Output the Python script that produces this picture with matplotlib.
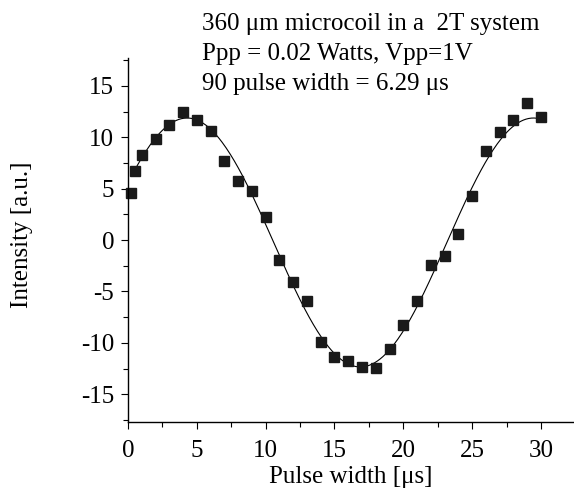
import numpy as np
import matplotlib
matplotlib.use("Agg")
import matplotlib.pyplot as plt
from matplotlib.ticker import MultipleLocator

# data
pulse_width = [0.25, 0.5, 1, 2, 3, 4, 5, 6, 7, 8, 9, 10, 11, 12, 13, 14, 15,
               16, 17, 18, 19, 20, 21, 22, 23, 24, 25, 26, 27, 28, 29, 30]
intensity = [4.63, 6.74, 8.30, 9.85, 11.15, 12.48, 11.64, 10.57, 7.65, 5.77,
             4.73, 2.20, -1.98, -4.12, -5.90, -9.96, -11.40, -11.80, -12.30,
             -12.49, -10.57, -8.27, -5.94, -2.47, -1.53, 0.55, 4.31, 8.69,
             10.53, 11.73, 13.36, 11.96]
pulse_90 = 6.29  # from the annotation

annot = ["360 \u03bcm microcoil in a  2T system",
         "Ppp = 0.02 Watts, Vpp=1V",
         "90 pulse width = 6.29 \u03bcs"]

plt.rcParams['font.family'] = ['Liberation Serif', 'DejaVu Serif']
plt.rcParams['axes.unicode_minus'] = False

# sine fit with the period given by the 90 degree pulse
x = np.array(pulse_width)
y = np.array(intensity)
k = 2 * np.pi / (4 * pulse_90)
A = np.column_stack([np.sin(k * x), np.cos(k * x), np.ones_like(x)])
coef, *_ = np.linalg.lstsq(A, y, rcond=None)
xf = np.linspace(0.4, 30, 300)
yf = coef[0] * np.sin(k * xf) + coef[1] * np.cos(k * xf) + coef[2]

fig = plt.figure(figsize=(5.74, 4.93), dpi=100)
ax = fig.add_axes([0.223, 0.144, 0.777, 0.738])

ax.plot(xf, yf, color='black', lw=0.8)
ax.plot(x, y, 's', color='#1a1a1a', markersize=6.5, clip_on=False)

ax.set_xlim(0, 32.4)
ax.set_ylim(-17.7, 17.7)
ax.xaxis.set_major_locator(MultipleLocator(5))
ax.xaxis.set_minor_locator(MultipleLocator(2.5))
ax.yaxis.set_major_locator(MultipleLocator(5))
ax.yaxis.set_minor_locator(MultipleLocator(2.5))

for s in ['top', 'right']:
    ax.spines[s].set_visible(False)
for s in ['left', 'bottom']:
    ax.spines[s].set_linewidth(1.0)

ax.tick_params(which='major', direction='out', length=5, width=0.8,
               labelsize=18)
ax.tick_params(axis='y', which='major', pad=5)
ax.tick_params(axis='x', which='major', pad=8)
ax.tick_params(which='minor', direction='out', length=3.6, width=0.8)

ax.set_xlabel("Pulse width [\u03bcs]", fontsize=18)
ax.xaxis.label.set_va('baseline')
ax.xaxis.set_label_coords(0.5, -0.168)
ax.set_ylabel("Intensity [a.u.]", fontsize=18)
ax.yaxis.label.set_va('center')
ax.yaxis.set_label_coords(-0.238, 0.514)

for i, line in enumerate(annot):
    fig.text(202 / 574, 1 - (30 + 30 * i) / 493, line, fontsize=18,
             va='baseline', ha='left')

fig.savefig("out.png", dpi=100)
